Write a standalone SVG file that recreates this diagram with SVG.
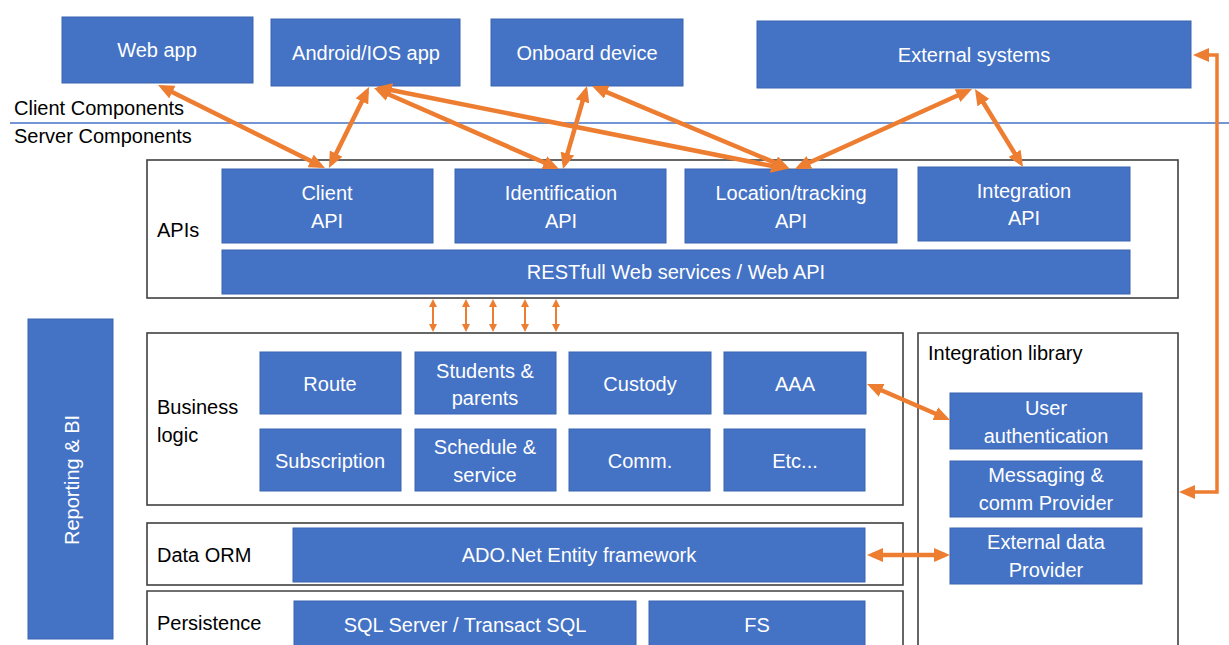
<svg xmlns="http://www.w3.org/2000/svg" width="1229" height="645" viewBox="0 0 1229 645">
  <style>
    .box { fill: #4472C4; stroke: #3A65B0; stroke-width: 1; }
    .frame { fill: #FFFFFF; stroke: #404040; stroke-width: 1.6; }
    .bt { font-family: "Liberation Sans", Arial, sans-serif; font-size: 20px; fill: #FFFFFF; text-anchor: middle; }
    .lt { font-family: "Liberation Sans", Arial, sans-serif; font-size: 20px; fill: #000000; }
    .conn { fill: none; stroke: #ED7D31; stroke-width: 4.5; marker-start: url(#big); marker-end: url(#big); }
    .thin { fill: none; stroke: #ED7D31; stroke-width: 2; marker-start: url(#small); marker-end: url(#small); }
  </style>
  <defs>
    <marker id="big" viewBox="0 0 16 14" refX="11" refY="7" markerWidth="16" markerHeight="14" markerUnits="userSpaceOnUse" orient="auto-start-reverse">
      <path d="M0,0 L16,7 L0,14 z" fill="#ED7D31"/>
    </marker>
    <marker id="small" viewBox="0 0 8 8" refX="5" refY="4" markerWidth="8" markerHeight="8" markerUnits="userSpaceOnUse" orient="auto-start-reverse">
      <path d="M0,0 L8,4 L0,8 z" fill="#ED7D31"/>
    </marker>
  </defs>

  <rect width="1229" height="645" fill="#FFFFFF"/>

  <!-- client / server divider -->
  <g id="divider">
    <line x1="10" y1="123" x2="1229" y2="123" stroke="#4472C4" stroke-width="1.5"/>
    <text class="lt" x="14" y="115">Client Components</text>
    <text class="lt" x="14" y="143">Server Components</text>
  </g>

  <!-- client components -->
  <g id="web-app">
    <rect class="box" x="62" y="17" width="191" height="66"/>
    <text class="bt" x="157" y="57">Web app</text>
  </g>
  <g id="mobile-app">
    <rect class="box" x="271" y="19" width="189" height="67"/>
    <text class="bt" x="366" y="60">Android/IOS app</text>
  </g>
  <g id="onboard-device">
    <rect class="box" x="491" y="19" width="192" height="67"/>
    <text class="bt" x="587" y="60">Onboard device</text>
  </g>
  <g id="external-systems">
    <rect class="box" x="757" y="21" width="434" height="67"/>
    <text class="bt" x="974" y="62">External systems</text>
  </g>

  <!-- API layer -->
  <g id="apis">
    <rect class="frame" x="147" y="160" width="1031" height="138"/>
    <text class="lt" x="157" y="237">APIs</text>
  </g>
  <g id="client-api">
    <rect class="box" x="222" y="169" width="211" height="74"/>
    <text class="bt" x="327" y="200">Client</text>
    <text class="bt" x="327" y="228">API</text>
  </g>
  <g id="identification-api">
    <rect class="box" x="455" y="169" width="211" height="74"/>
    <text class="bt" x="561" y="200">Identification</text>
    <text class="bt" x="561" y="228">API</text>
  </g>
  <g id="location-api">
    <rect class="box" x="685" y="169" width="212" height="74"/>
    <text class="bt" x="791" y="200">Location/tracking</text>
    <text class="bt" x="791" y="228">API</text>
  </g>
  <g id="integration-api">
    <rect class="box" x="918" y="167" width="212" height="74"/>
    <text class="bt" x="1024" y="198">Integration</text>
    <text class="bt" x="1024" y="225">API</text>
  </g>
  <g id="rest-services">
    <rect class="box" x="222" y="250" width="908" height="44"/>
    <text class="bt" x="676" y="279">RESTfull Web services / Web API</text>
  </g>

  <!-- business logic layer -->
  <g id="business-logic">
    <rect class="frame" x="147" y="333" width="756" height="172"/>
    <text class="lt" x="157" y="414">Business</text>
    <text class="lt" x="157" y="442">logic</text>
  </g>
  <g id="route">
    <rect class="box" x="260" y="352" width="141" height="62"/>
    <text class="bt" x="330" y="391">Route</text>
  </g>
  <g id="students-parents">
    <rect class="box" x="415" y="352" width="141" height="62"/>
    <text class="bt" x="485" y="378">Students &amp;</text>
    <text class="bt" x="485" y="405">parents</text>
  </g>
  <g id="custody">
    <rect class="box" x="569" y="352" width="142" height="62"/>
    <text class="bt" x="640" y="391">Custody</text>
  </g>
  <g id="aaa">
    <rect class="box" x="724" y="352" width="142" height="62"/>
    <text class="bt" x="795" y="391">AAA</text>
  </g>
  <g id="subscription">
    <rect class="box" x="260" y="429" width="141" height="62"/>
    <text class="bt" x="330" y="468">Subscription</text>
  </g>
  <g id="schedule-service">
    <rect class="box" x="415" y="429" width="141" height="62"/>
    <text class="bt" x="485" y="454">Schedule &amp;</text>
    <text class="bt" x="485" y="482">service</text>
  </g>
  <g id="comm">
    <rect class="box" x="569" y="429" width="141" height="62"/>
    <text class="bt" x="640" y="468">Comm.</text>
  </g>
  <g id="etc">
    <rect class="box" x="724" y="429" width="141" height="62"/>
    <text class="bt" x="795" y="468">Etc...</text>
  </g>

  <!-- data access layer -->
  <g id="data-orm">
    <rect class="frame" x="147" y="523" width="756" height="62"/>
    <text class="lt" x="157" y="562">Data ORM</text>
  </g>
  <g id="entity-framework">
    <rect class="box" x="293" y="528" width="572" height="54"/>
    <text class="bt" x="579" y="562">ADO.Net Entity framework</text>
  </g>

  <!-- persistence layer -->
  <g id="persistence">
    <path d="M147,650 V591 H903 V650" fill="#FFFFFF" stroke="#404040" stroke-width="1.6"/>
    <text class="lt" x="157" y="630">Persistence</text>
  </g>
  <g id="sql-server">
    <rect class="box" x="294" y="601" width="342" height="50"/>
    <text class="bt" x="465" y="632">SQL Server / Transact SQL</text>
  </g>
  <g id="file-store">
    <rect class="box" x="649" y="601" width="216" height="50"/>
    <text class="bt" x="757" y="632">FS</text>
  </g>

  <!-- integration library -->
  <g id="integration-library">
    <path d="M918,650 V333 H1178 V650" fill="#FFFFFF" stroke="#404040" stroke-width="1.6"/>
    <text class="lt" x="928" y="360">Integration library</text>
  </g>
  <g id="user-authentication">
    <rect class="box" x="950" y="393" width="192" height="56"/>
    <text class="bt" x="1046" y="415">User</text>
    <text class="bt" x="1046" y="443">authentication</text>
  </g>
  <g id="messaging-provider">
    <rect class="box" x="950" y="461" width="192" height="56"/>
    <text class="bt" x="1046" y="482">Messaging &amp;</text>
    <text class="bt" x="1046" y="510">comm Provider</text>
  </g>
  <g id="external-data-provider">
    <rect class="box" x="950" y="528" width="192" height="56"/>
    <text class="bt" x="1046" y="549">External data</text>
    <text class="bt" x="1046" y="577">Provider</text>
  </g>

  <!-- reporting -->
  <g id="reporting-bi">
    <rect class="box" x="28" y="319" width="85" height="320"/>
    <text class="bt" transform="translate(79,480) rotate(-90)">Reporting &amp; BI</text>
  </g>

  <!-- connectors -->
  <g id="connectors">
    <path class="conn" d="M162.5,87.2 L320.5,165.8"/>
    <path class="conn" d="M366.8,91.5 L331.2,163.5"/>
    <path class="conn" d="M378.6,90 L554.4,167"/>
    <path class="conn" d="M380.9,88 L782.1,168"/>
    <path class="conn" d="M585.6,90.8 L564.4,164.2"/>
    <path class="conn" d="M596.6,87.9 L785.4,167.1"/>
    <path class="conn" d="M967.5,91 L799.5,167"/>
    <path class="conn" d="M977.6,93.3 L1020.4,162.7"/>
    <path class="conn" d="M871.6,386 L945.4,418"/>
    <path class="conn" d="M872,555 L945,555"/>
    <path class="conn" style="stroke-width:3.5" d="M1198,55 H1217 V492 H1184"/>
    <path class="thin" d="M433,302 V329"/>
    <path class="thin" d="M466,302 V329"/>
    <path class="thin" d="M493,302 V329"/>
    <path class="thin" d="M525,302 V329"/>
    <path class="thin" d="M556,302 V329"/>
  </g>
</svg>
